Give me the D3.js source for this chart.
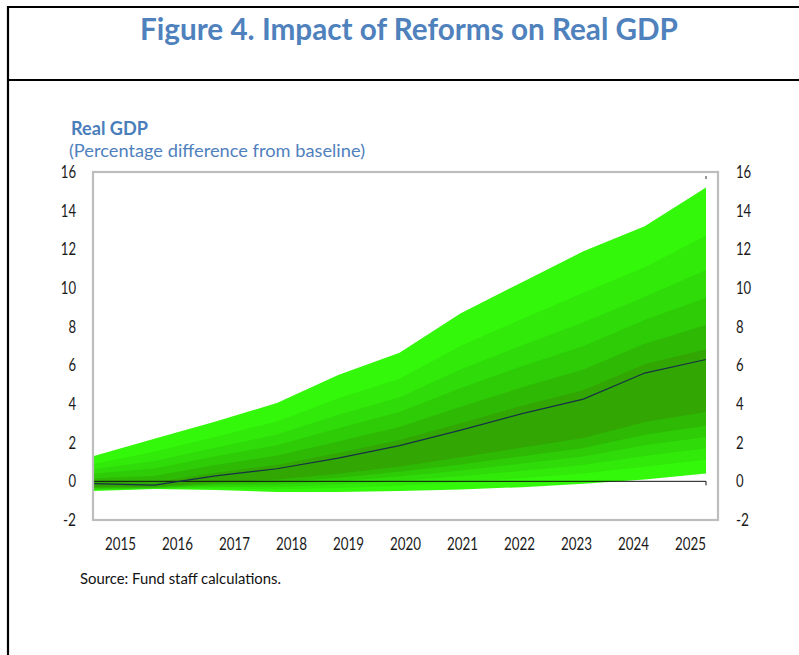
<!DOCTYPE html>
<html>
<head>
<meta charset="utf-8">
<script src="https://cdn.jsdelivr.net/npm/d3@7"></script>
<style>
  html, body { margin: 0; padding: 0; background: #fff; }
  svg { display: block; }
  text { font-family: Lato, "Open Sans", "DejaVu Sans", sans-serif; }
</style>
</head>
<body>
<svg id="chart" width="799" height="655"></svg>
<script>
// Real GDP impact of reforms: percentage difference from baseline, fan of outcomes
const years = [2015, 2016, 2017, 2018, 2019, 2020, 2021, 2022, 2023, 2024, 2025];
const yearLabels = ["2015", "2016", "2017", "2018", "2019", "2020", "2021", "2022", "2023", "2024", "2025"];
const yTicks = [-2, 0, 2, 4, 6, 8, 10, 12, 14, 16];

// central projection
const median = [-0.12, -0.20, 0.28, 0.65, 1.20, 1.85, 2.65, 3.50, 4.25, 5.60, 6.30];

// fan band edges, upper side
const p95 = [1.30, 2.20, 3.10, 4.05, 5.50, 6.65, 8.70, 10.30, 11.90, 13.20, 15.20];
const p90 = [0.90, 1.53, 2.31, 3.10, 4.30, 5.31, 7.01, 8.40, 9.76, 11.07, 12.71];
const p80 = [0.62, 1.05, 1.75, 2.42, 3.44, 4.35, 5.80, 7.04, 8.23, 9.55, 10.93];
const p70 = [0.39, 0.66, 1.30, 1.87, 2.75, 3.58, 4.83, 5.95, 7.00, 8.34, 9.50];
const p60 = [0.16, 0.28, 0.84, 1.33, 2.06, 2.81, 3.86, 4.86, 5.78, 7.12, 8.08];
const p55 = [-0.03, -0.06, 0.45, 0.85, 1.46, 2.14, 3.01, 3.91, 4.71, 6.06, 6.83];

// fan band edges, lower side
const p45 = [-0.29, -0.29, -0.06, 0.10, 0.39, 0.77, 1.24, 1.75, 2.24, 3.07, 3.59];
const p40 = [-0.34, -0.32, -0.14, -0.05, 0.18, 0.49, 0.87, 1.30, 1.72, 2.41, 2.88];
const p30 = [-0.38, -0.34, -0.22, -0.17, 0.01, 0.25, 0.56, 0.92, 1.28, 1.86, 2.29];
const p20 = [-0.42, -0.36, -0.29, -0.29, -0.17, 0.02, 0.26, 0.54, 0.84, 1.31, 1.70];
const p10 = [-0.45, -0.38, -0.36, -0.41, -0.34, -0.22, -0.05, 0.16, 0.40, 0.76, 1.11];
const p05 = [-0.50, -0.40, -0.45, -0.55, -0.55, -0.50, -0.42, -0.30, -0.12, 0.10, 0.40];

// outer to inner pairs, lighter to darker greens
const bandPairs = [[p05, p95], [p10, p90], [p20, p80], [p30, p70], [p40, p60], [p45, p55]];
const bandColors = ["#33f80a", "#31ea0a", "#2fdc09", "#2ecb07", "#2eb905", "#32a603"];

const svg = d3.select("#chart");
const blue = "#4f81bd";

// page frame
svg.append("line").attr("x1", 8).attr("x2", 8).attr("y1", 6).attr("y2", 655)
  .attr("stroke", "#000").attr("stroke-width", 2.2);
svg.append("line").attr("x1", 7).attr("x2", 799).attr("y1", 7).attr("y2", 7)
  .attr("stroke", "#000").attr("stroke-width", 2.2);
svg.append("line").attr("x1", 7).attr("x2", 799).attr("y1", 80).attr("y2", 80)
  .attr("stroke", "#000").attr("stroke-width", 2.2);

// headings
svg.append("text").attr("x", 409).attr("y", 40).attr("text-anchor", "middle")
  .attr("font-size", 31).attr("font-weight", 700).attr("fill", blue)
  .attr("textLength", 538).attr("lengthAdjust", "spacingAndGlyphs")
  .text("Figure 4. Impact of Reforms on Real GDP");
svg.append("text").attr("x", 71).attr("y", 135)
  .attr("font-size", 18).attr("font-weight", 700).attr("fill", "#4a7ebb")
  .attr("textLength", 77).attr("lengthAdjust", "spacingAndGlyphs")
  .text("Real GDP");
svg.append("text").attr("x", 69).attr("y", 157)
  .attr("font-size", 18).attr("fill", blue)
  .attr("textLength", 296).attr("lengthAdjust", "spacingAndGlyphs")
  .text("(Percentage difference from baseline)");

// plot geometry
const plot = { left: 93, right: 718, top: 172, bottom: 520 };
const y = d3.scaleLinear().domain([-2, 16]).range([plot.bottom, plot.top]);
const xData = d3.scaleLinear().domain([2015, 2025]).range([plot.left, 706]);
const xBand = d3.scaleBand().domain(yearLabels).range([92, 719]);

// fan bands
const area = d3.area()
  .x((d, i) => xData(years[i]))
  .y0(d => y(d[0]))
  .y1(d => y(d[1]));
bandPairs.forEach((pair, k) => {
  const rows = years.map((yr, i) => [pair[0][i], pair[1][i]]);
  svg.append("path").datum(rows)
    .attr("d", area)
    .attr("fill", bandColors[k]);
});

// zero reference line
svg.append("line")
  .attr("x1", plot.left).attr("x2", xData(2025))
  .attr("y1", y(0)).attr("y2", y(0))
  .attr("stroke", "#111").attr("stroke-width", 1);
svg.append("line")
  .attr("x1", xData(2025)).attr("x2", xData(2025))
  .attr("y1", y(0)).attr("y2", y(0) + 4)
  .attr("stroke", "#111").attr("stroke-width", 1);
svg.append("line")
  .attr("x1", xData(2025)).attr("x2", xData(2025))
  .attr("y1", plot.top + 4).attr("y2", plot.top + 7)
  .attr("stroke", "#333").attr("stroke-width", 1);

// central projection line
const line = d3.line().x((d, i) => xData(years[i])).y(d => y(d));
svg.append("path").datum(median)
  .attr("d", line)
  .attr("fill", "none")
  .attr("stroke", "#173246")
  .attr("stroke-width", 1.2);

// plot frame
svg.append("rect")
  .attr("x", plot.left).attr("y", plot.top)
  .attr("width", plot.right - plot.left).attr("height", plot.bottom - plot.top)
  .attr("fill", "none").attr("stroke", "#bdbdbd").attr("stroke-width", 2.2);

// axes
const labelWidth = s => s.startsWith("-") ? 13 : s.length * 7.6;
const plain = d => String(d);

const leftAxis = svg.append("g")
  .attr("transform", `translate(${plot.left},0)`)
  .call(d3.axisLeft(y).tickValues(yTicks).tickSize(0).tickPadding(17).tickFormat(plain));
const rightAxis = svg.append("g")
  .attr("transform", `translate(${plot.right},0)`)
  .call(d3.axisRight(y).tickValues(yTicks).tickSize(0).tickPadding(18).tickFormat(plain));
const bottomAxis = svg.append("g")
  .attr("transform", `translate(0,${plot.bottom})`)
  .call(d3.axisBottom(xBand).tickSize(0).tickPadding(18));

[leftAxis, rightAxis, bottomAxis].forEach(g => {
  g.select(".domain").remove();
  g.selectAll("text")
    .attr("font-family", "Lato, 'Open Sans', sans-serif")
    .attr("font-size", 17)
    .attr("fill", "#1a1a1a")
    .attr("lengthAdjust", "spacingAndGlyphs")
    .attr("textLength", function () { return labelWidth(this.textContent); });
});
bottomAxis.selectAll("text").attr("textLength", 31);

// source note
svg.append("text").attr("x", 80).attr("y", 584)
  .attr("font-size", 15.5).attr("fill", "#111")
  .attr("textLength", 201).attr("lengthAdjust", "spacingAndGlyphs")
  .text("Source: Fund  staff calculations.");
</script>
</body>
</html>
